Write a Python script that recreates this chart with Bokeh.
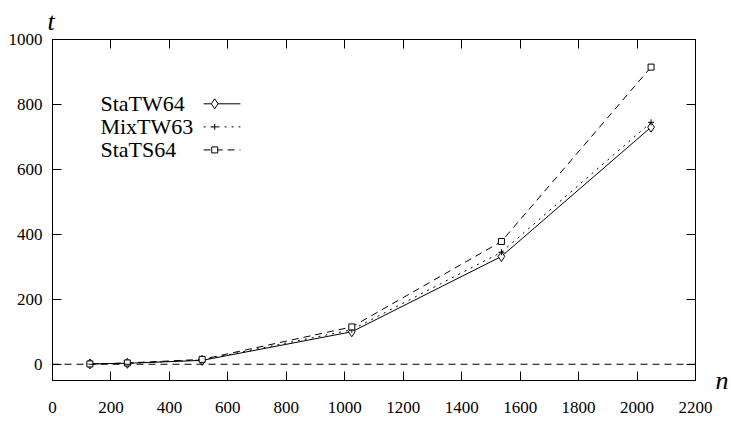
from bokeh.plotting import figure
from bokeh.models import Range1d, LinearAxis, FixedTicker, Span, Label, Title
from bokeh.embed import file_html
from bokeh.resources import INLINE

# data
n_values = [128, 256, 512, 1024, 1536, 2048]
sta_tw64 = [1, 3, 12, 100, 332, 730]
mix_tw63 = [1, 3, 13, 106, 345, 745]
sta_ts64 = [1, 4, 15, 115, 378, 915]
series_names = ["StaTW64", "MixTW63", "StaTS64"]
x_ticks = [0, 200, 400, 600, 800, 1000, 1200, 1400, 1600, 1800, 2000, 2200]
y_ticks = [0, 200, 400, 600, 800, 1000]
x_name = "n"
y_name = "t"

series = [sta_tw64, mix_tw63, sta_ts64]
dashes = ["solid", "2 5", "7 5"]
markers = ["diamond", "cross", "square"]
msizes = [10, 6, 6]

FONT = "Liberation Serif"
Y_MIN, Y_MAX = -50, 1000

p = figure(width=731, height=421, x_range=Range1d(0, 2200), y_range=Range1d(Y_MIN, Y_MAX),
           output_backend="svg", toolbar_location=None,
           min_border_left=52, min_border_right=36, min_border_top=39, min_border_bottom=41,
           x_axis_location=None, y_axis_location=None)
p.xgrid.visible = False
p.ygrid.visible = False
p.outline_line_color = "black"
p.outline_line_width = 1
p.background_fill_color = "white"
p.border_fill_color = "white"

p.title = Title(text=y_name, text_font=FONT, text_font_style="italic", text_font_size="26px",
                align="left", offset=-5, standoff=7, text_color="black")


def make_axis(ticks, labels=True):
    ax = LinearAxis(ticker=FixedTicker(ticks=ticks))
    ax.major_tick_in = 9
    ax.major_tick_out = 0
    ax.minor_tick_in = 0
    ax.minor_tick_out = 0
    ax.axis_line_color = "black"
    ax.major_tick_line_color = "black"
    ax.major_label_text_font = FONT
    ax.major_label_text_color = "black"
    ax.major_label_text_font_size = "17px"
    if not labels:
        ax.major_label_text_font_size = "1px"
        ax.major_label_text_color = None
        ax.major_label_text_alpha = 0
        ax.major_label_standoff = 0
    return ax


bx = make_axis(x_ticks)
bx.major_label_standoff = 21
p.add_layout(bx, "below")
ly = make_axis(y_ticks)
ly.major_label_standoff = 10
p.add_layout(ly, "left")
p.add_layout(make_axis(x_ticks, labels=False), "above")
p.add_layout(make_axis(y_ticks, labels=False), "right")

# x-axis name placed as a label of an extra right-side axis at the bottom edge
name_axis = LinearAxis(ticker=FixedTicker(ticks=[Y_MIN]),
                       major_label_overrides={Y_MIN: x_name})
name_axis.axis_line_color = None
name_axis.major_tick_line_color = None
name_axis.major_tick_in = 0
name_axis.major_tick_out = 0
name_axis.minor_tick_in = 0
name_axis.minor_tick_out = 0
name_axis.major_label_standoff = 20
name_axis.major_label_text_font = FONT
name_axis.major_label_text_font_style = "italic"
name_axis.major_label_text_font_size = "26px"
name_axis.major_label_text_color = "black"
p.add_layout(name_axis, "right")

# zero line
p.add_layout(Span(location=0, dimension="width", line_color="black", line_width=1, line_dash="7 5"))

for vals, dash, mk, ms in zip(series, dashes, markers, msizes):
    p.line(n_values, vals, line_color="black", line_width=1, line_dash=dash)
    p.scatter(n_values, vals, marker=mk, size=ms, line_color="black", fill_color="white", line_width=1)

# manual legend (text left, sample right)
legend_y = [802, 731, 660]
for name, y, dash, mk, ms in zip(series_names, legend_y, dashes, markers, msizes):
    p.add_layout(Label(x=164, y=y, text=name, text_font=FONT, text_font_size="22px",
                       text_baseline="middle", text_align="left", text_color="black"))
    p.line([517, 643], [y, y], line_color="black", line_width=1, line_dash=dash)
    p.scatter([555], [y], marker=mk, size=ms, line_color="black", fill_color="white", line_width=1)

open("out.html", "w").write(file_html(p, INLINE))
